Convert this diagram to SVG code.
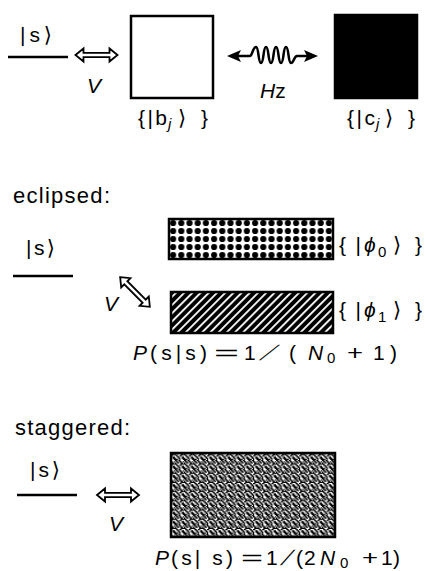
<svg xmlns="http://www.w3.org/2000/svg" width="425" height="571" viewBox="0 0 425 571">
<style>
text{font-family:"Liberation Sans","DejaVu Sans",sans-serif;fill:#000;font-size:21px}
.h{font-size:22px}
.i{font-style:italic}
.sub{font-size:15px}
.ln{stroke:#000;stroke-width:2.5;fill:none}
.box{stroke:#000;stroke-width:2.5}
.harrow{fill:#fff;stroke:#000;stroke-width:1.8;stroke-linejoin:miter}
</style>
<defs>
<path id="dbl" d="M-21,0 L-13,-6.5 L-13,-2.2 L13,-2.2 L13,-6.5 L21,0 L13,6.5 L13,2.2 L-13,2.2 L-13,6.5 Z"/>
<pattern id="dots" patternUnits="userSpaceOnUse" x="169" y="219" width="8.2" height="8">
<rect width="8.2" height="8" fill="#fff"/>
<circle cx="4.1" cy="4" r="3.1" fill="#000"/>
</pattern>
<pattern id="hatch" patternUnits="userSpaceOnUse" width="5.8" height="5.8" patternTransform="rotate(45)">
<rect width="5.8" height="5.8" fill="#000"/>
<rect x="0" y="0" width="1.8" height="5.8" fill="#fff"/>
</pattern>
<pattern id="speck" patternUnits="userSpaceOnUse" width="8" height="8" patternTransform="scale(1.15)">
<rect width="8" height="8" fill="#fff"/>
<path fill="#000" d="M0,0h2v1h-2z M3,0h2v1h-2z M1,1h2v1h-2z M4,1h2v1h-2z M7,1h1v1h-1z M0,2h1v1h-1z M2,2h2v1h-2z M5,2h2v1h-2z M0,3h2v1h-2z M5,3h3v1h-3z M1,4h2v1h-2z M4,4h2v1h-2z M2,5h2v1h-2z M6,5h2v1h-2z M0,6h1v1h-1z M3,6h2v1h-2z M6,6h2v1h-2z M0,7h3v1h-3z M4,7h1v1h-1z M7,7h1v1h-1z"/>
</pattern>
</defs>

<g id="top-s">
<text x="20" y="42" textLength="32">|s⟩</text>
<line class="ln" x1="8" y1="57" x2="68" y2="57"/>
</g>
<g id="top-b">
<rect class="box" x="131" y="16" width="82" height="82" fill="#fff"/>
<text x="138" y="125" textLength="29">{|b</text>
<text class="i sub" x="168" y="129">j</text>
<text x="178" y="125" textLength="30">⟩}</text>
</g>
<g id="top-c">
<rect class="box" x="335" y="15" width="82" height="83" fill="#000"/>
<text x="347" y="125" textLength="28">{|c</text>
<text class="i sub" x="376" y="129">j</text>
<text x="385" y="125" textLength="30">⟩}</text>
</g>

<text class="h" x="13" y="203" textLength="97">eclipsed:</text>
<g id="ecl-s">
<text x="26" y="255" textLength="29">|s⟩</text>
<line class="ln" x1="13" y1="276" x2="73" y2="276"/>
</g>
<g id="ecl-phi0">
<rect class="box" x="169" y="219" width="164" height="40" fill="url(#dots)"/>
<text x="339" y="252" textLength="22">{ |</text>
<text class="i" x="364" y="252" font-size="25">ϕ</text>
<text class="sub" x="378" y="257">0</text>
<text x="393" y="252" textLength="29">⟩ }</text>
</g>
<g id="ecl-phi1">
<rect class="box" x="171" y="292" width="162" height="41" fill="url(#hatch)"/>
<text x="339" y="317" textLength="22">{ |</text>
<text class="i" x="364" y="317" font-size="25">ϕ</text>
<text class="sub" x="378" y="322">1</text>
<text x="393" y="317" textLength="29">⟩ }</text>
</g>
<g id="ecl-formula">
<text class="i" x="133" y="360" font-size="22">P</text>
<text x="150" y="360" textLength="57">(s|s)</text>
<text x="214" y="360" textLength="25" lengthAdjust="spacingAndGlyphs">=</text>
<text x="244" y="360">1</text>
<text transform="translate(259,360) skewX(-45)">/</text>
<text x="289" y="360">(</text>
<text class="i" x="308" y="360" font-size="23">N</text>
<text class="sub" x="327" y="363">0</text>
<text x="347" y="360" textLength="16" lengthAdjust="spacingAndGlyphs">+</text>
<text x="373" y="360">1</text>
<text x="390" y="360">)</text>
</g>

<text class="h" x="15" y="435" textLength="115">staggered:</text>
<g id="stg-s">
<text x="30" y="477" textLength="30">|s⟩</text>
<line class="ln" x1="17" y1="495" x2="77" y2="495"/>
</g>
<g id="stg-box">
<rect class="box" x="171" y="453" width="164" height="84" fill="url(#speck)"/>
</g>
<g id="stg-formula">
<text class="i" x="155" y="565" font-size="22">P</text>
<text x="171" y="565" textLength="62">(s| s)</text>
<text x="241" y="565" textLength="22" lengthAdjust="spacingAndGlyphs">=</text>
<text x="266" y="565">1</text>
<text transform="translate(280,565) skewX(-32)">/</text>
<text x="296" y="565">(</text>
<text x="304" y="565">2</text>
<text class="i" x="320" y="565" font-size="23">N</text>
<text class="sub" x="340" y="568">0</text>
<text x="362" y="565" textLength="16" lengthAdjust="spacingAndGlyphs">+</text>
<text x="381" y="565">1</text>
<text x="393" y="565">)</text>
</g>

<g id="connectors">
<use href="#dbl" class="harrow" transform="translate(96.5,55)"/>
<text class="i" x="87" y="93" font-size="23">V</text>
<g id="wavy">
<path d="M227,56 L241,50 L238,56 L241,62 Z" fill="#000"/>
<path d="M318,56 L304,50 L307,56 L304,62 Z" fill="#000"/>
<path class="ln" stroke-width="2.8" d="M238,56 L250,56 C252,56 253,47 256,47 C259,47 258,63 261,63 C264,63 263,47 266,47 C269,47 268,63 271,63 C274,63 273,47 276,47 C279,47 278,63 281,63 C284,63 283,47 286,47 C289,47 288,63 291,63 C294,63 294,56 297,56 L307,56"/>
</g>
<text x="260" y="98" font-size="22"><tspan class="i">H</tspan>z</text>
<use href="#dbl" class="harrow" transform="translate(135,292) rotate(45)"/>
<text class="i" x="104" y="311">V</text>
<use href="#dbl" class="harrow" transform="translate(118,495)"/>
<text class="i" x="109" y="531">V</text>
</g>
</svg>
